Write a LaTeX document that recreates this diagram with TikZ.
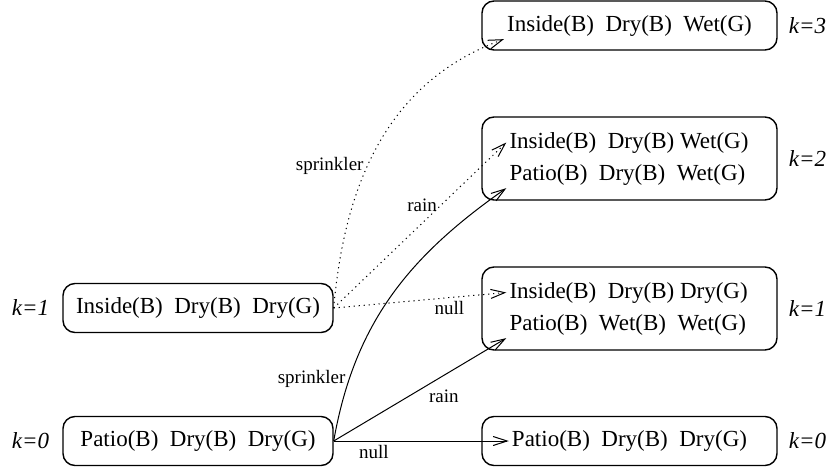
\documentclass[tikz,border=0pt]{standalone}
\usepackage{fontspec}
\setmainfont{Liberation Serif}
\usetikzlibrary{arrows.meta,positioning}

\begin{document}
\begin{tikzpicture}[x=1pt,y=-1pt,>={Straight Barb[length=14pt,width=9pt]},
  box/.style={draw,rounded corners=12pt,line width=1.4pt,minimum height=49pt},
  txt/.style={inner sep=3pt,font=\fontsize{23}{28}\selectfont},
  klab/.style={inner sep=0pt,font=\fontsize{23}{28}\selectfont\itshape},
  trans/.style={->,line width=1pt},
  transdot/.style={trans,dash pattern=on 1.2pt off 3.8pt},
  lab/.style={font=\fontsize{19}{22}\selectfont}]
  \useasboundingbox (0,0) rectangle (828,472);
  \node[box,minimum width=270pt] (s1) at (198,308) {};
  \node[box,minimum width=270pt] (s0) at (198,441) {};
  \node[box,minimum width=295pt] (t3) at (629.5,25.5) {};
  \node[box,minimum width=295pt,minimum height=83pt] (t2) at (629.5,158.5) {};
  \node[box,minimum width=295pt,minimum height=83pt] (t1) at (629.5,308.5) {};
  \node[box,minimum width=295pt] (t0) at (629.5,441) {};
  \node[txt] (s1a) at (s1) {Inside(B)~~Dry(B)~~Dry(G)};
  \node[txt] (s0a) at (s0) {Patio(B)~~Dry(B)~~Dry(G)};
  \node[txt] (t3a) at (t3) {Inside(B)~~Dry(B)~~Wet(G)};
  \node[txt,anchor=west] (t2a) at ([xshift=25pt,yshift=16pt]t2.west) {Inside(B)~~Dry(B) Wet(G)};
  \node[txt,anchor=west] (t2b) at ([xshift=25pt,yshift=-16pt]t2.west) {Patio(B)~~Dry(B)~~Wet(G)};
  \node[txt,anchor=west] (t1a) at ([xshift=25pt,yshift=16pt]t1.west) {Inside(B)~~Dry(B) Dry(G)};
  \node[txt,anchor=west] (t1b) at ([xshift=25pt,yshift=-16pt]t1.west) {Patio(B)~~Wet(B)~~Wet(G)};
  \node[txt] (t0a) at (t0) {Patio(B)~~Dry(B)~~Dry(G)};
  \node[klab,left=13pt of s1] (ks1) {k=1};
  \node[klab,left=13pt of s0] (ks0) {k=0};
  \node[klab,right=11pt of t3] (kt3) {k=3};
  \node[klab,right=11pt of t2] (kt2) {k=2};
  \node[klab,right=11pt of t1] (kt1) {k=1};
  \node[klab,right=11pt of t0] (kt0) {k=0};
  \draw[transdot] (s1.east) to[out=85,in=200] node[lab,pos=0.42,left] {sprinkler} (t3a.south west);
  \draw[transdot] (s1.east) -- node[lab,pos=0.62,left] {rain} (t2a.west);
  \draw[transdot] (s1.east) -- node[lab,pos=0.67,below] {null} (t1a.west);
  \draw[trans] (s0.east) to[out=80,in=215] node[lab,pos=0.19,left] {sprinkler} (t2b.south west);
  \draw[trans] (s0.east) -- node[lab,pos=0.53,below right] {rain} (t1b.south west);
  \draw[trans] (s0.east) -- node[lab,pos=0.23,below] {null} (t0a.west);
\end{tikzpicture}
\end{document}
